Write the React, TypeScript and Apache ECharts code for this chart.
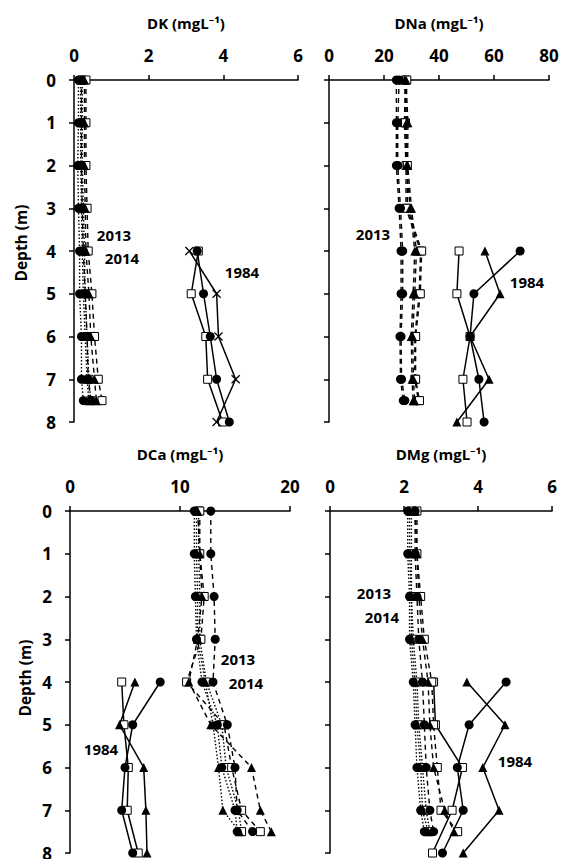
import React, { useEffect, useRef } from "react";
import * as echarts from "echarts";

const depthsRecent = [0, 1, 2, 3, 4, 5, 6, 7, 7.5];
const depths1984 = [4, 5, 6, 7, 8];

// DK
const dk1984Circle = [3.3, 3.47, 3.65, 3.82, 4.16];
const dk1984Square = [3.33, 3.14, 3.53, 3.58, 3.98];
const dk1984Cross = [3.09, 3.82, 3.87, 4.33, 3.82];
const dk2013Circle = [0.12, 0.12, 0.1, 0.12, 0.15, 0.15, 0.2, 0.2, 0.25];
const dk2013Triangle = [0.18, 0.18, 0.18, 0.2, 0.22, 0.25, 0.3, 0.35, 0.4];
const dk2013Square = [0.22, 0.22, 0.22, 0.25, 0.28, 0.3, 0.35, 0.4, 0.45];
const dk2014Circle = [0.2, 0.2, 0.2, 0.22, 0.25, 0.3, 0.35, 0.38, 0.45];
const dk2014Triangle = [0.28, 0.28, 0.28, 0.3, 0.32, 0.4, 0.45, 0.55, 0.6];
const dk2014Square = [0.32, 0.32, 0.32, 0.35, 0.38, 0.48, 0.55, 0.65, 0.75];

// DNa
const na1984Circle = [69.5, 52.7, 51.3, 54.5, 56.4];
const na1984Triangle = [56.7, 62.2, 51.3, 58.2, 46.5];
const na1984Square = [47.3, 46.5, 51.3, 48.7, 50.2];
const na2013Circle = [24.5, 24.5, 24.5, 25.5, 26.2, 26.2, 25.8, 26, 27];
const na2013Triangle = [27.5, 28.2, 28.2, 29.5, 31.2, 30.6, 29.9, 30.2, 30.6];
const na2013Square = [27.8, 27.4, 28, 28, 33.3, 32.8, 31.2, 31.2, 32.5];
const na2014Circle = [25.5, 25, 25, 26, 26.8, 26.8, 26.2, 26.4, 27.6];
const na2014Triangle = [28, 28.7, 28.6, 30, 31.8, 31.2, 30.4, 30.7, 31.1];
const na2014Square = [28.3, 27.8, 28.5, 28.5, 33.7, 33.2, 31.5, 31.5, 32.9];

// DCa
const ca1984Circle = [8.2, 5.7, 5.0, 4.7, 5.7];
const ca1984Triangle = [5.9, 4.5, 6.7, 6.9, 7.0];
const ca1984Square = [4.7, 4.9, 5.3, 5.2, 6.2];
const ca2013Circle = [11.3, 11.3, 11.4, 11.5, 12.0, 13.4, 13.8, 15.0, 15.2];
const ca2013Triangle = [11.5, 11.5, 11.6, 11.6, 12.3, 13.0, 13.5, 13.9, 15.4];
const ca2013Square = [11.7, 11.7, 11.8, 11.8, 12.4, 13.8, 14.2, 15.3, 15.6];
const ca2014Circle = [12.8, 12.8, 13.1, 13.2, 13.0, 14.3, 15.0, 15.2, 16.6];
const ca2014Triangle = [11.6, 11.8, 12.0, 11.6, 10.8, 12.8, 16.5, 17.3, 18.3];
const ca2014Square = [11.8, 11.8, 12.2, 11.9, 10.6, 14.0, 14.7, 15.6, 17.3];

// DMg
const mg1984Circle = [4.76, 3.76, 3.44, 3.6, 3.04];
const mg1984Triangle = [3.7, 4.73, 4.13, 4.57, 3.6];
const mg1984Square = [2.8, 2.85, 3.58, 3.3, 2.77];
const mg2013Circle = [2.1, 2.1, 2.15, 2.15, 2.25, 2.3, 2.35, 2.45, 2.55];
const mg2013Triangle = [2.15, 2.15, 2.2, 2.2, 2.3, 2.35, 2.45, 2.5, 2.65];
const mg2013Square = [2.2, 2.2, 2.2, 2.25, 2.35, 2.4, 2.5, 2.6, 2.7];
const mg2014Circle = [2.3, 2.3, 2.35, 2.4, 2.5, 2.55, 2.6, 2.7, 2.8];
const mg2014Triangle = [2.3, 2.35, 2.4, 2.5, 2.65, 2.7, 2.8, 3.1, 3.35];
const mg2014Square = [2.35, 2.35, 2.45, 2.55, 2.75, 2.8, 2.9, 3.0, 3.45];

const panelTitles = ["DK (mgL⁻¹)", "DNa (mgL⁻¹)", "DCa (mgL⁻¹)", "DMg (mgL⁻¹)"];
const panelMax = [6, 80, 20, 6];
const panelInterval = [2, 20, 10, 2];

const FONT = "'Open Sans', 'Noto Sans', sans-serif";
const CROSS =
  "path://M1,0 L5,4 L9,0 L10,1 L6,5 L10,9 L9,10 L5,6 L1,10 L0,9 L4,5 L0,1 Z";

type Kind = "circle" | "triangle" | "square" | "cross";

function mk(
  idx: number,
  depths: number[],
  vals: number[],
  kind: Kind,
  line: "solid" | "dotted" | "dashed"
) {
  const symbol =
    kind === "circle" ? "circle" : kind === "triangle" ? "triangle" : kind === "square" ? "rect" : CROSS;
  const size = kind === "circle" ? 9 : kind === "triangle" ? 9 : kind === "square" ? 8 : 9;
  return {
    type: "line",
    xAxisIndex: idx,
    yAxisIndex: idx,
    data: vals.map((v, i) => [v, depths[i]]),
    symbol,
    symbolSize: size,
    showSymbol: true,
    lineStyle: {
      color: "#000",
      width: line === "solid" ? 1.5 : 1.4,
      type: line === "solid" ? "solid" : line === "dotted" ? [1.5, 2] : [5, 4],
    },
    itemStyle: {
      color: kind === "square" ? "#fff" : "#000",
      borderColor: "#000",
      borderWidth: kind === "square" ? 1 : 0,
      opacity: 1,
    },
    z: kind === "square" ? 2 : 3,
    emphasis: { disabled: true },
  };
}

export default function App() {
  const ref = useRef<HTMLDivElement>(null);
  useEffect(() => {
    if (!ref.current) return;
    const chart = echarts.init(ref.current, undefined, { renderer: "svg" });
    const grids = [
      { left: 74, top: 80, width: 224, height: 342 },
      { left: 329, top: 80, width: 220, height: 342 },
      { left: 70, top: 511, width: 220, height: 342 },
      { left: 330, top: 511, width: 222, height: 342 },
    ];
    const xAxis = grids.map((_, i) => ({
      gridIndex: i,
      type: "value",
      position: "top",
      min: 0,
      max: panelMax[i],
      interval: panelInterval[i],
      axisLine: { show: true, onZero: false, lineStyle: { color: "#000", width: 1.5 } },
      axisTick: { show: true, length: 5, lineStyle: { color: "#000", width: 1.5 } },
      axisLabel: {
        color: "#000",
        fontSize: 17,
        fontWeight: "bold",
        fontFamily: FONT,
        margin: 16,
      },
      splitLine: { show: false },
      name: panelTitles[i],
      nameLocation: "middle",
      nameGap: 50,
      nameTextStyle: { color: "#000", fontSize: 15, fontWeight: "bold", fontFamily: FONT },
    }));
    const yAxis = grids.map((_, i) => ({
      gridIndex: i,
      type: "value",
      inverse: true,
      min: 0,
      max: 8,
      interval: 1,
      axisLine: { show: true, onZero: false, lineStyle: { color: "#000", width: 1.5 } },
      axisTick: { show: true, length: 5, lineStyle: { color: "#000", width: 1.5 } },
      axisLabel: {
        show: i === 0 || i === 2,
        color: "#000",
        fontSize: 17,
        fontWeight: "bold",
        fontFamily: FONT,
        margin: 18,
      },
      splitLine: { show: false },
    }));

    const series = [
      // DK
      mk(0, depths1984, dk1984Circle, "circle", "solid"),
      mk(0, depths1984, dk1984Square, "square", "solid"),
      mk(0, depths1984, dk1984Cross, "cross", "solid"),
      mk(0, depthsRecent, dk2013Circle, "circle", "dotted"),
      mk(0, depthsRecent, dk2013Triangle, "triangle", "dotted"),
      mk(0, depthsRecent, dk2013Square, "square", "dotted"),
      mk(0, depthsRecent, dk2014Circle, "circle", "dashed"),
      mk(0, depthsRecent, dk2014Triangle, "triangle", "dashed"),
      mk(0, depthsRecent, dk2014Square, "square", "dashed"),
      // DNa
      mk(1, depths1984, na1984Circle, "circle", "solid"),
      mk(1, depths1984, na1984Triangle, "triangle", "solid"),
      mk(1, depths1984, na1984Square, "square", "solid"),
      mk(1, depthsRecent, na2013Circle, "circle", "dashed"),
      mk(1, depthsRecent, na2013Triangle, "triangle", "dashed"),
      mk(1, depthsRecent, na2013Square, "square", "dashed"),
      mk(1, depthsRecent, na2014Circle, "circle", "dashed"),
      mk(1, depthsRecent, na2014Triangle, "triangle", "dashed"),
      mk(1, depthsRecent, na2014Square, "square", "dashed"),
      // DCa
      mk(2, depths1984, ca1984Circle, "circle", "solid"),
      mk(2, depths1984, ca1984Triangle, "triangle", "solid"),
      mk(2, depths1984, ca1984Square, "square", "solid"),
      mk(2, depthsRecent, ca2013Circle, "circle", "dotted"),
      mk(2, depthsRecent, ca2013Triangle, "triangle", "dotted"),
      mk(2, depthsRecent, ca2013Square, "square", "dotted"),
      mk(2, depthsRecent, ca2014Circle, "circle", "dashed"),
      mk(2, depthsRecent, ca2014Triangle, "triangle", "dashed"),
      mk(2, depthsRecent, ca2014Square, "square", "dashed"),
      // DMg
      mk(3, depths1984, mg1984Circle, "circle", "solid"),
      mk(3, depths1984, mg1984Triangle, "triangle", "solid"),
      mk(3, depths1984, mg1984Square, "square", "solid"),
      mk(3, depthsRecent, mg2013Circle, "circle", "dotted"),
      mk(3, depthsRecent, mg2013Triangle, "triangle", "dotted"),
      mk(3, depthsRecent, mg2013Square, "square", "dotted"),
      mk(3, depthsRecent, mg2014Circle, "circle", "dashed"),
      mk(3, depthsRecent, mg2014Triangle, "triangle", "dashed"),
      mk(3, depthsRecent, mg2014Square, "square", "dashed"),
    ];

    const label = (text: string, x: number, y: number) => ({
      type: "text",
      x,
      y,
      style: {
        text,
        fill: "#000",
        fontSize: 15,
        fontWeight: "bold",
        fontFamily: FONT,
        textAlign: "center",
        textVerticalAlign: "middle",
      },
      z: 10,
    });
    const depthLabel = (y: number, x: number) => ({
      type: "text",
      x,
      y,
      rotation: Math.PI / 2,
      style: {
        text: "Depth (m)",
        fill: "#000",
        fontSize: 15.5,
        fontWeight: "bold",
        fontFamily: FONT,
        textAlign: "center",
        textVerticalAlign: "middle",
      },
    });

    chart.setOption({
      animation: false,
      backgroundColor: "#fff",
      grid: grids.map((g) => ({ ...g, containLabel: false, outerBoundsMode: "none" })),
      xAxis,
      yAxis,
      series,
      graphic: [
        label("2013", 114, 235),
        label("2014", 122, 258),
        label("1984", 242, 272),
        label("2013", 373, 234),
        label("1984", 527, 282),
        label("2013", 238, 659),
        label("2014", 246, 683),
        label("1984", 101, 749),
        label("2013", 374, 593),
        label("2014", 382, 617),
        label("1984", 515, 761),
        depthLabel(243, 21),
        depthLabel(678, 25),
      ],
    });
    return () => chart.dispose();
  }, []);
  return (
    <div
      ref={ref}
      style={{ position: "fixed", left: 0, top: 0, width: 561, height: 859, background: "#fff" }}
    />
  );
}
